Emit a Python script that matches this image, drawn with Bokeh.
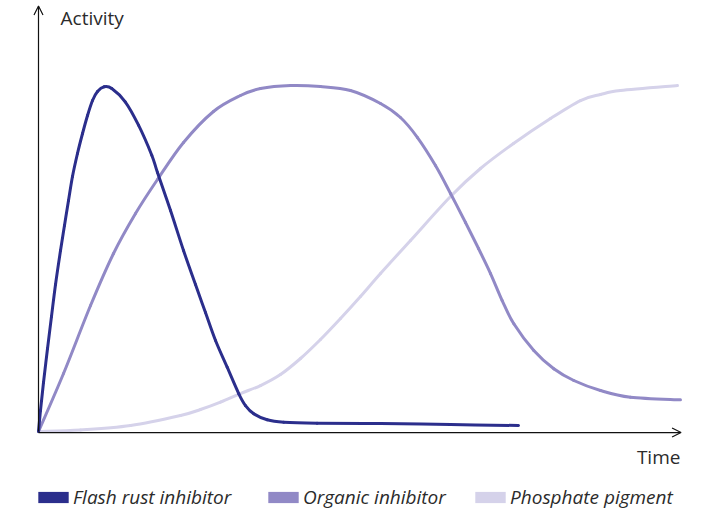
from bokeh.plotting import figure
from bokeh.models import Arrow, OpenHead, Label, Legend, LegendItem, Range1d, ColumnDataSource
from bokeh.embed import file_html
from bokeh.resources import INLINE

# ---- data (time 0..100, activity 0..100) ----
flash_t = [0, 0.31, 0.78, 1.41, 2.03, 2.66, 3.44, 4.06, 4.69, 5.31, 6.09, 6.88, 7.66, 8.44,
           9.22, 10.27, 11.45, 13.55, 15.63, 17.70, 18.59, 20.63, 22.66, 24.53, 26.09, 27.66,
           29.48, 31.30, 32.34, 33.64, 35.73, 38.33, 43.55, 53.44, 64.38, 75.0]
flash_a = [0, 6.07, 14.16, 23.99, 33.24, 42.49, 52.31, 59.54, 66.76, 73.70, 80.35, 86.13, 91.33, 95.66,
           98.27, 99.62, 99.13, 95.29, 88.53, 79.86, 74.86, 63.87, 52.31, 42.49, 34.39, 26.30,
           18.58, 10.90, 7.51, 5.12, 3.38, 2.69, 2.40, 2.31, 2.02, 1.73]

organic_t = [0, 3.91, 8.13, 11.72, 15.16, 18.59, 22.66, 27.34, 31.56, 34.69, 39.38, 44.06,
             48.75, 53.44, 56.56, 59.22, 62.03, 64.38, 66.72, 68.75, 70.63, 72.45, 74.27,
             77.39, 80.52, 83.64, 87.81, 92.5, 100.31]
organic_a = [0, 16.76, 36.42, 51.45, 63.01, 72.83, 83.53, 92.49, 97.11, 99.13, 100.0, 99.71,
             98.55, 94.80, 90.75, 84.97, 76.88, 68.79, 60.40, 52.89, 45.66, 37.86, 31.13,
             23.41, 18.12, 14.74, 11.85, 9.91, 9.16]

phosphate_t = [0, 6.56, 14.38, 22.19, 25.31, 28.44, 31.56, 34.69, 37.81, 40.94, 44.06, 47.19, 50.31,
               53.44, 58.13, 64.38, 69.06, 74.22, 80.0, 84.69, 87.81, 90.94, 99.84]
phosphate_a = [0, 0.43, 1.73, 4.62, 6.36, 8.50, 10.98, 13.29, 16.47, 21.10, 26.59, 32.66, 39.02,
               45.66, 55.20, 67.92, 76.01, 83.24, 90.46, 95.66, 97.40, 98.55, 100.0]

series_names = ["Flash rust inhibitor", "Organic inhibitor", "Phosphate pigment"]
series_colors = ["#2b2e8c", "#9189c6", "#d5d2ea"]
x_label = "Time"
y_label = "Activity"

FONT = "Open Sans"
TEXT_COLOR = "#2b2b2b"


def smooth_segments(xs, ys):
    """Catmull-Rom through the read points, expressed as cubic Bezier segments."""
    n = len(xs)
    seg = dict(x0=[], y0=[], x1=[], y1=[], cx0=[], cy0=[], cx1=[], cy1=[])
    for i in range(n - 1):
        i0, i3 = max(i - 1, 0), min(i + 2, n - 1)
        seg["x0"].append(xs[i]); seg["y0"].append(ys[i])
        seg["x1"].append(xs[i + 1]); seg["y1"].append(ys[i + 1])
        seg["cx0"].append(xs[i] + (xs[i + 1] - xs[i0]) / 6.0)
        seg["cy0"].append(ys[i] + (ys[i + 1] - ys[i0]) / 6.0)
        seg["cx1"].append(xs[i + 1] - (xs[i3] - xs[i]) / 6.0)
        seg["cy1"].append(ys[i + 1] - (ys[i3] - ys[i]) / 6.0)
    return ColumnDataSource(data=seg)


p = figure(width=705, height=510, output_backend="svg", toolbar_location=None,
           x_range=Range1d(-5.9375, 104.22), y_range=Range1d(-22.83, 124.57),
           min_border=0, min_border_left=0, min_border_right=0,
           min_border_top=0, min_border_bottom=0)
p.axis.visible = False
p.grid.visible = False
p.outline_line_color = None

for t, a, c in [(phosphate_t, phosphate_a, series_colors[2]),
                (organic_t, organic_a, series_colors[1]),
                (flash_t, flash_a, series_colors[0])]:
    p.bezier(x0="x0", y0="y0", x1="x1", y1="y1", cx0="cx0", cy0="cy0", cx1="cx1", cy1="cy1",
             source=smooth_segments(t, a), line_color=c, line_width=3, line_cap="round")

# axes with arrow heads
p.add_layout(Arrow(end=OpenHead(size=9, line_width=1.2, line_color="#111111"),
                   x_start=0, y_start=0, x_end=0, y_end=123.0,
                   line_width=1.2, line_color="#111111"))
p.add_layout(Arrow(end=OpenHead(size=9, line_width=1.2, line_color="#111111"),
                   x_start=0, y_start=-0.3, x_end=100.4, y_end=-0.3,
                   line_width=1.2, line_color="#111111"))

p.add_layout(Label(x=3.44, y=119.4, text=y_label, text_font=FONT, text_font_size="19px",
                   text_color=TEXT_COLOR, text_baseline="middle", text_align="left"))
p.add_layout(Label(x=100.3, y=-7.5, text=x_label, text_font=FONT, text_font_size="19px",
                   text_color=TEXT_COLOR, text_baseline="middle", text_align="right"))

# legend swatches (renderers with no drawable geometry, only used for the legend)
nan = float("nan")
sw_src = ColumnDataSource(data=dict(l=[nan], r=[nan], b=[nan], t=[nan]))
swatches = [p.quad(left="l", right="r", bottom="b", top="t", source=sw_src,
                   fill_color=c, line_color=None) for c in series_colors]

legend_x = [34, 264, 471]
for name, sw, lx in zip(series_names, swatches, legend_x):
    lg = Legend(items=[LegendItem(label=name, renderers=[sw])],
                location=(lx, 0), orientation="horizontal",
                glyph_width=38, glyph_height=14, label_standoff=1,
                label_text_font=FONT, label_text_font_style="italic",
                label_text_font_size="19px", label_text_color=TEXT_COLOR,
                label_height=16, padding=0, margin=0, spacing=0,
                border_line_color=None, background_fill_alpha=0)
    p.add_layout(lg)

open("out.html", "w").write(file_html(p, INLINE))
